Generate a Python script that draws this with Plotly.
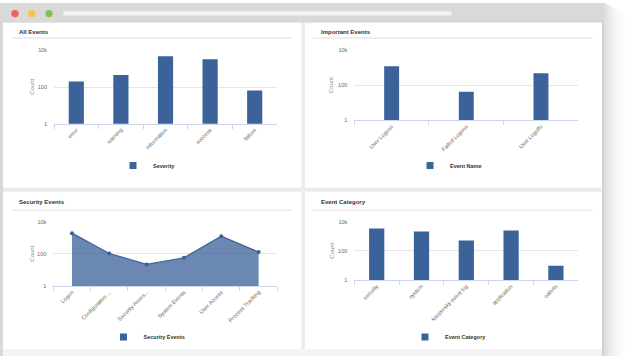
import plotly.graph_objects as go

W, H = 626, 359

# ---------------- data ----------------
severity_cats = ["error", "warning", "information", "success", "failure"]
severity_counts = [200, 450, 4900, 3300, 65]

important_cats = ["User Logons", "Failed Logons", "User Logoffs"]
important_counts = [1250, 43, 500]

security_cats = ["Logon", "Configuration ...", "Security Asses...", "System Events",
                 "User Access", "Process Tracking"]
security_counts = [2000, 107, 22, 58, 1300, 130]

category_cats = ["security", "system", "kaspersky event log", "application", "oalerts"]
category_counts = [3550, 2200, 520, 2600, 9.5]

panel_titles = ["All Events", "Important Events", "Security Events", "Event Category"]
series_names = ["Severity", "Event Name", "Security Events", "Event Category"]
y_tick_vals = [1, 100, 10000]
y_tick_text = ["1", "100", "10k"]
y_title = "Count"

# ---------------- style ----------------
BAR = "#3b6299"
AREA_FILL = "rgba(59,98,153,0.76)"
FONT = "Liberation Sans"
GRID = "#e6e6e6"
AXIS = "#ccd6eb"


def X(px):
    return px / W


def Y(py):
    return 1 - py / H


fig = go.Figure()

# ---------------- traces ----------------
fig.add_trace(go.Bar(x=severity_cats, y=severity_counts, width=0.34,
                     marker=dict(color=BAR, line=dict(width=0)),
                     xaxis="x", yaxis="y", showlegend=False, name=series_names[0]))
fig.add_trace(go.Bar(x=important_cats, y=important_counts, width=0.2,
                     marker=dict(color=BAR, line=dict(width=0)),
                     xaxis="x2", yaxis="y2", showlegend=False, name=series_names[1]))
# baseline for the area (axis floor)
fig.add_trace(go.Scatter(x=security_cats, y=[y_tick_vals[0]] * len(security_cats),
                         mode="lines", line=dict(width=0, color=BAR),
                         xaxis="x3", yaxis="y3", showlegend=False, hoverinfo="skip"))
fig.add_trace(go.Scatter(x=security_cats, y=security_counts, mode="lines+markers",
                         fill="tonexty", fillcolor=AREA_FILL,
                         line=dict(color=BAR, width=1.2),
                         marker=dict(color=BAR, size=4),
                         xaxis="x3", yaxis="y3", showlegend=False, name=series_names[2]))
fig.add_trace(go.Bar(x=category_cats, y=category_counts, width=0.34,
                     marker=dict(color=BAR, line=dict(width=0)),
                     xaxis="x4", yaxis="y4", showlegend=False, name=series_names[3]))

# legend entries (small squares like the original)
for i, nm in enumerate(series_names):
    fig.add_trace(go.Scatter(x=[None], y=[None], mode="markers",
                             marker=dict(symbol="square", size=7, color=BAR),
                             name="<b>%s</b>" % nm, showlegend=True,
                             legend="legend" if i == 0 else "legend%d" % (i + 1),
                             xaxis="x" if i == 0 else "x%d" % (i + 1),
                             yaxis="y" if i == 0 else "y%d" % (i + 1)))

# ---------------- axes ----------------
plot_boxes = [
    (54, 277, 48.3, 122.7, len(severity_cats)),
    (354.3, 578.3, 48.3, 119.3, len(important_cats)),
    (53.3, 277.3, 222.7, 287.7, len(security_cats)),
    (354.3, 578.3, 222.7, 281.7, len(category_cats)),
]
layout_axes = {}
for i, (x0, x1, y0, y1, n) in enumerate(plot_boxes):
    sfx = "" if i == 0 else str(i + 1)
    layout_axes["xaxis" + sfx] = dict(
        domain=[X(x0), X(x1)], anchor="y" + sfx, type="category",
        range=[-0.5, n - 0.5], showline=True, linecolor=AXIS, linewidth=1,
        ticks="outside", ticklen=4, tickcolor=AXIS, tickwidth=1, tickson="boundaries",
        tickangle=-45, tickfont=dict(family=FONT, size=5.5, color="#666666"),
        showgrid=False, zeroline=False, fixedrange=True)
    layout_axes["yaxis" + sfx] = dict(
        domain=[Y(y1), Y(y0)], anchor="x" + sfx, type="log", range=[0, 4],
        tickvals=y_tick_vals, ticktext=y_tick_text, ticks="",
        ticklabelstandoff=6,
        tickfont=dict(family=FONT, size=5.5, color="#666666"),
        showgrid=True, gridcolor=GRID, gridwidth=1, zeroline=False, showline=False,
        fixedrange=True)

# ---------------- window chrome ----------------
shapes = []


def rect(x0, y0, x1, y1, color, layer="below"):
    shapes.append(dict(type="rect", xref="paper", yref="paper",
                       x0=X(x0), x1=X(x1), y0=Y(y1), y1=Y(y0),
                       fillcolor=color, line=dict(width=0), layer=layer))


# right-hand shadow
shades = ["#dedede", "#e4e4e4", "#e9e9e9", "#eeeeee", "#f1f1f1", "#f4f4f4",
          "#f7f7f7", "#f9f9f9", "#fbfbfb", "#fdfdfd", "#fefefe"]
for k, c in enumerate(shades):
    xa = 604 + 2 * k
    rect(xa, 1.2 * k, xa + 2, H, c)

rect(0, 0, 604, H, "#d9d9d9")          # window frame
rect(3, 20, 602, H, "#ebebeb")          # content background
rect(3, 352, 602, H, "#f4f4f4")         # bottom strip
rect(602, 20, 604, H, "#d2d2d2")        # right border

# panels
for (px0, py0, px1, py1) in [(3, 20, 301.5, 188), (305, 20, 602, 188),
                             (3, 192, 301.5, 352), (305, 192, 602, 352)]:
    rect(px0, py0, px1, py1, "#ffffff")

# title underlines
for (lx0, lx1, ly) in [(12, 292, 35.7), (313, 593, 35.7), (12, 292, 210.7), (313, 593, 210.7)]:
    rect(lx0, ly - 0.8, lx1, ly + 0.8, "#ececec")

# traffic lights
for cx, col in [(15, "#f0625c"), (31.7, "#f5c64f"), (49, "#80c24a")]:
    r = 3.7
    shapes.append(dict(type="circle", xref="paper", yref="paper",
                       x0=X(cx - r), x1=X(cx + r), y0=Y(10.7 + r), y1=Y(10.7 - r),
                       fillcolor=col, line=dict(width=0), layer="below"))

# address bar (rounded ends)
ax0, ax1, ay0, ay1 = 63, 452, 8.4, 12.8
rr = (ay1 - ay0) / 2
rect(ax0 + rr, ay0, ax1 - rr, ay1, "#f3f3f3")
for cx in (ax0 + rr, ax1 - rr):
    shapes.append(dict(type="circle", xref="paper", yref="paper",
                       x0=X(cx - rr), x1=X(cx + rr), y0=Y(ay1), y1=Y(ay0),
                       fillcolor="#f3f3f3", line=dict(width=0), layer="below"))

# ---------------- annotations ----------------
annotations = []
for t, (tx, ty) in zip(panel_titles, [(17, 29), (319, 29), (17, 202.7), (319, 202.7)]):
    annotations.append(dict(text="<b>%s</b>" % t, xref="paper", yref="paper",
                            x=X(tx), y=Y(ty), xanchor="left", yanchor="middle",
                            showarrow=False, font=dict(family=FONT, size=6, color="#333333")))
for (cx, cy) in [(31.7, 85.5), (331.7, 83.8), (31.7, 255.2), (331.7, 252.2)]:
    annotations.append(dict(text=y_title, xref="paper", yref="paper", x=X(cx), y=Y(cy),
                            xanchor="center", yanchor="middle", textangle=-90,
                            showarrow=False, font=dict(family=FONT, size=6, color="#8a8a8a")))

# ---------------- legends ----------------
legends = {}
for i, (lx, ly) in enumerate([(147, 165.3), (448.5, 165.3), (147, 339.7), (448.5, 339.7)]):
    key = "legend" if i == 0 else "legend%d" % (i + 1)
    legends[key] = dict(x=X(lx), y=Y(ly), xanchor="center", yanchor="middle",
                        orientation="h", bgcolor="rgba(0,0,0,0)", borderwidth=0,
                        font=dict(family=FONT, size=5.5, color="#333333"),
                        itemwidth=30, tracegroupgap=0)

fig.update_layout(width=W, height=H, autosize=False,
                  margin=dict(l=0, r=0, t=0, b=0, pad=0),
                  paper_bgcolor="#ffffff", plot_bgcolor="rgba(0,0,0,0)",
                  font=dict(family=FONT), bargap=0.5,
                  shapes=shapes, annotations=annotations,
                  hovermode=False, **layout_axes, **legends)

fig.write_html("out.html", config={"displayModeBar": False},
               post_script="document.body.style.margin='0';document.body.style.overflow='hidden';")
